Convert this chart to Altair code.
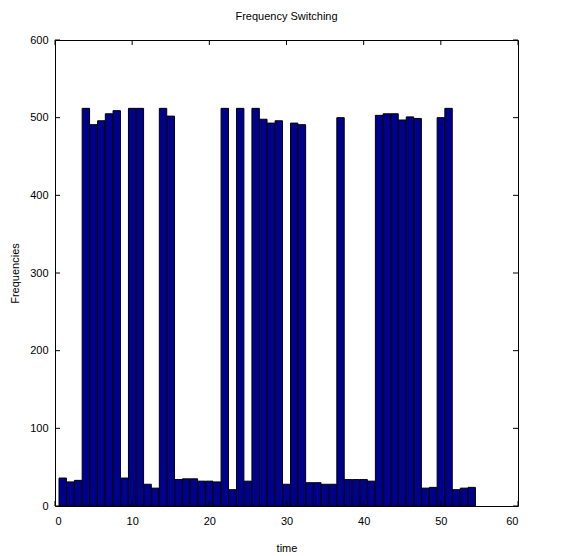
import altair as alt
import pandas as pd

# ---- data ----
times = [1, 2, 3, 4, 5, 6, 7, 8, 9, 10, 11, 12, 13, 14, 15, 16, 17, 18,
         19, 20, 21, 22, 23, 24, 25, 26, 27, 28, 29, 30, 31, 32, 33, 34, 35, 36,
         37, 38, 39, 40, 41, 42, 43, 44, 45, 46, 47, 48, 49, 50, 51, 52, 53, 54]
freqs = [36, 31, 33, 512, 491, 496, 505, 509, 36, 512, 512, 28, 23, 512, 502, 34, 35, 35,
         32, 32, 31, 512, 21, 512, 32, 512, 498, 493, 496, 28, 493, 491, 30, 30, 28, 28,
         500, 34, 34, 34, 32, 503, 505, 505, 497, 501, 499, 23, 24, 500, 512, 21, 23, 24]
x_ticks = [0, 10, 20, 30, 40, 50, 60]
y_ticks = [0, 100, 200, 300, 400, 500, 600]

W, H = 463, 466
FONT = "Liberation Sans"

df = pd.DataFrame({"t": times, "f": freqs})
xt = pd.DataFrame({"t": x_ticks})
yt = pd.DataFrame({"f": y_ticks})

xscale = alt.Scale(domain=[0, 60], nice=False, zero=False)
yscale = alt.Scale(domain=[0, 600], nice=False)

xaxis = alt.Axis(values=x_ticks, tickSize=0, domain=False, grid=False,
                 labelPadding=9, titlePadding=16, labelFontSize=11,
                 titleFontSize=11, titleFontWeight="normal",
                 labelFont=FONT, titleFont=FONT, labelColor="#000",
                 titleColor="#000")
yaxis = alt.Axis(values=y_ticks, tickSize=0, domain=False, grid=False,
                 labelPadding=7, titlePadding=9, labelFontSize=11,
                 titleFontSize=11, titleFontWeight="normal",
                 labelFont=FONT, titleFont=FONT, labelColor="#000",
                 titleColor="#000")

bars = alt.Chart(df).transform_calculate(
    t0="datum.t - 0.48", t1="datum.t + 0.48"
).mark_rect(color="#00008F", stroke="#000000", strokeWidth=1).encode(
    x=alt.X("t0:Q", scale=xscale, title="time", axis=xaxis),
    x2="t1:Q",
    y=alt.Y("f:Q", scale=yscale, title="Frequencies", axis=yaxis),
)

tick_len = 5
bottom_ticks = alt.Chart(xt).mark_rule(color="#000", strokeWidth=1).encode(
    x=alt.X("t:Q", scale=xscale, title="time", axis=xaxis),
    y=alt.value(H), y2=alt.value(H - tick_len))
top_ticks = alt.Chart(xt).mark_rule(color="#000", strokeWidth=1).encode(
    x=alt.X("t:Q", scale=xscale, title="time", axis=xaxis),
    y=alt.value(0), y2=alt.value(tick_len))
left_ticks = alt.Chart(yt).mark_rule(color="#000", strokeWidth=1).encode(
    y=alt.Y("f:Q", scale=yscale, title="Frequencies", axis=yaxis),
    x=alt.value(0), x2=alt.value(tick_len))
right_ticks = alt.Chart(yt).mark_rule(color="#000", strokeWidth=1).encode(
    y=alt.Y("f:Q", scale=yscale, title="Frequencies", axis=yaxis),
    x=alt.value(W), x2=alt.value(W - tick_len))

chart = alt.layer(bars, bottom_ticks, top_ticks, left_ticks, right_ticks).properties(
    width=W, height=H,
    title=alt.TitleParams("Frequency Switching", fontSize=11, fontWeight="normal",
                          font=FONT, color="#000", offset=12, anchor="middle"),
    autosize=alt.AutoSizeParams(type="none"),
    padding={"left": 55, "top": 40, "right": 46, "bottom": 50},
    background="white",
).configure_view(stroke="#000", strokeWidth=1)

chart.save("out.html", embed_options={"renderer": "svg", "actions": False})
